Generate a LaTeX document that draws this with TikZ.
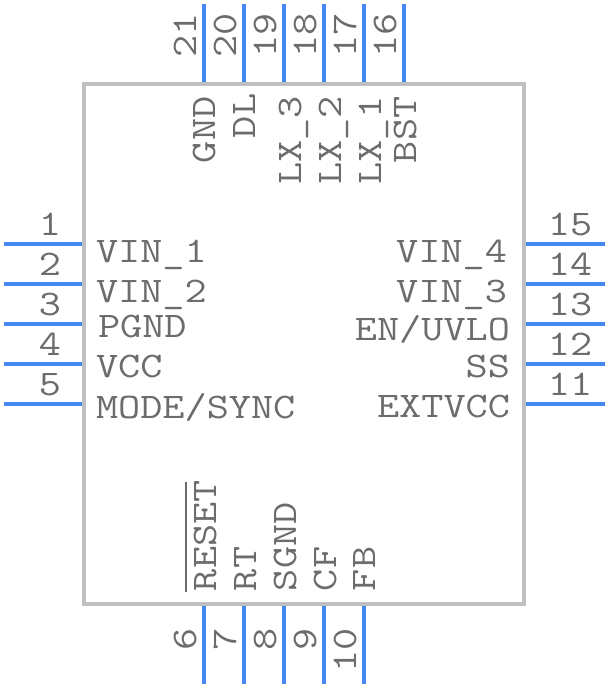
\documentclass[tikz,border=0pt]{standalone}
\usepackage{fontspec}
\newfontfamily\pinfont[FakeStretch=1.195]{Latin Modern Mono}
\definecolor{pinblue}{HTML}{4488EE}
\definecolor{bodygray}{HTML}{C0C0C0}
\definecolor{labelgray}{HTML}{6C6C6C}
\tikzset{
  body/.style={draw=bodygray,line width=3pt,fill=white},
  pin/.style={draw=pinblue,line width=3pt},
  lab/.style={text=labelgray,font=\pinfont\fontsize{27pt}{30pt}\selectfont,inner sep=0pt,outer sep=0pt},
  labw/.style={lab,anchor=base west},
  labe/.style={lab,anchor=base east},
  labc/.style={lab,anchor=base},
  vlab/.style={labw,rotate=90},
  vlabe/.style={labe,rotate=90},
  bar/.style={draw=labelgray,line width=1.5pt}
}
\begin{document}
\begin{tikzpicture}[x=0.75pt,y=-0.75pt]
\useasboundingbox (0,0) rectangle (608,688);
\coordinate (bodyA) at (84,84);
\coordinate (bodyB) at (524,604);
\draw[body] (bodyA) rectangle (bodyB);
% left pins
\foreach \n/\y in {1/244,2/284,3/324,4/364,5/404}{
  \coordinate (p\n o) at (4,\y);
  \coordinate (p\n i) at (82,\y);
  \draw[pin] (p\n o) -- (p\n i);
  \node[labc] (n\n) at (50,\y-9) {\n};
}
% right pins
\foreach \n/\y in {15/244,14/284,13/324,12/364,11/404}{
  \coordinate (p\n o) at (605,\y);
  \coordinate (p\n i) at (526,\y);
  \draw[pin] (p\n o) -- (p\n i);
  \node[labc] (n\n) at (570,\y-9) {\n};
}
% top pins
\foreach \n/\x in {21/204,20/244,19/284,18/324,17/364,16/404}{
  \coordinate (p\n o) at (\x,4);
  \coordinate (p\n i) at (\x,82);
  \draw[pin] (p\n o) -- (p\n i);
  \node[vlab] (n\n) at (\x-8,58) {\n};
}
% bottom pins
\foreach \n/\x in {6/204,7/244,8/284,9/324,10/364}{
  \coordinate (p\n o) at (\x,684);
  \coordinate (p\n i) at (\x,606);
  \draw[pin] (p\n o) -- (p\n i);
  \node[vlabe] (n\n) at (\x-8,628) {\n};
}
% left labels
\node[labw] (vin1) at (96,262) {VIN\_1};
\node[labw] (vin2) at (96,302) {VIN\_2};
\node[labw] (pgnd) at (98,337) {PGND};
\node[labw] (vcc) at (96,377) {VCC};
\node[labw] (mode) at (96,418) {MODE/SYNC};
% right labels
\node[labe] (vin4) at (507,262) {VIN\_4};
\node[labe] (vin3) at (507,302) {VIN\_3};
\node[labe] (en) at (510,340) {EN/UVLO};
\node[labe] (ss) at (510,377) {SS};
\node[labe] (ext) at (510,417) {EXTVCC};
% top labels
\node[vlab] (gnd) at (215,163) {GND};
\node[vlab] (dl) at (255,138) {DL};
\node[vlab] (lx3) at (301,185) {LX\_3};
\node[vlab] (lx2) at (341,185) {LX\_2};
\node[vlab] (lx1) at (381,185) {LX\_1};
\node[vlab] (bst) at (416,163) {BST};
% bottom labels
\node[vlab] (reset) at (216,591) {RESET};
\node[vlab] (rt) at (256,591) {RT};
\node[vlab] (sgnd) at (296,591) {SGND};
\node[vlab] (cf) at (336,591) {CF};
\node[vlab] (fb) at (375,591) {FB};
\coordinate (rbA) at (186,482);
\coordinate (rbB) at (186,592);
\draw[bar] (rbA) -- (rbB);
\end{tikzpicture}
\end{document}
